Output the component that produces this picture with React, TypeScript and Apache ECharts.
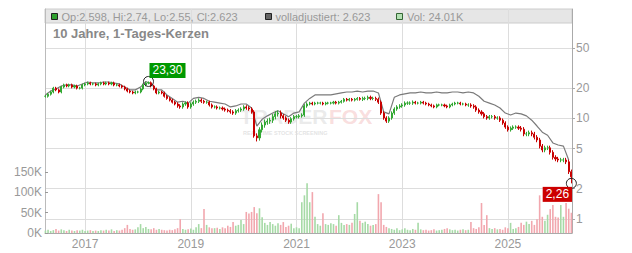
import React, { useEffect, useRef } from 'react';
import * as echarts from 'echarts';

const START_YEAR = 2016.25;
const CANDLE_STEP = 0.05;
const ADJ_STEP = 0.1;
const RANGE_STEP = 0.5;
const X_MIN = 2016.242;
const X_MAX = 2026.212;

const yearTicks = [2017, 2019, 2021, 2023, 2025];
const priceTicks = [1, 2, 5, 10, 20, 50];
const volumeTicks = [0, 50000, 100000, 150000];

// period closes (approx. every 0.05 year)
const closes = [
  16.6, 17.4, 18.3, 20.0, 19.2, 18.3, 20.5, 21.5, 21.0, 21.5,
  20.5, 21.0, 20.0, 20.0, 21.5, 22.0, 22.5, 22.0, 22.0, 21.5,
  22.0, 22.5, 22.0, 22.5, 22.0, 22.5, 21.5, 21.5, 21.0, 20.5,
  19.6, 18.7, 18.3, 17.9, 18.3, 18.3, 19.6, 21.5, 22.5, 22.6,
  21.0, 19.6, 17.9, 18.3, 17.9, 16.6, 15.8, 15.2, 14.5, 13.9,
  13.3, 13.0, 13.9, 14.2, 13.0, 13.9, 14.5, 14.8, 15.2, 14.8,
  14.5, 14.5, 13.6, 13.0, 13.0, 12.7, 12.7, 12.4, 12.1, 11.9,
  11.6, 11.3, 11.9, 12.1, 12.4, 13.0, 12.7, 12.4, 11.6, 6.7,
  6.4, 7.7, 8.6, 9.2, 9.4, 9.6, 10.4, 11.1, 11.3, 10.6,
  10.1, 9.6, 9.2, 9.9, 10.4, 10.4, 10.6, 10.8, 13.3, 13.9,
  14.2, 13.9, 14.2, 14.2, 14.2, 13.9, 14.2, 14.2, 14.2, 14.5,
  14.2, 14.5, 14.8, 15.5, 15.2, 15.5, 15.2, 15.5, 15.8, 15.5,
  15.8, 15.8, 16.2, 15.8, 15.8, 15.5, 14.5, 11.3, 10.1, 9.4,
  10.1, 11.3, 12.4, 13.0, 13.3, 13.6, 14.2, 14.2, 14.2, 14.5,
  14.2, 14.2, 14.5, 14.2, 13.9, 13.6, 13.3, 13.0, 13.6, 13.6,
  13.6, 13.3, 13.0, 13.6, 13.9, 14.2, 14.2, 13.9, 13.9, 13.6,
  13.6, 13.3, 13.0, 12.1, 11.6, 11.1, 10.4, 10.1, 10.4, 10.4,
  10.1, 10.1, 9.6, 9.0, 8.2, 7.7, 8.0, 8.2, 8.2, 8.0,
  7.8, 7.0, 7.0, 7.2, 7.0, 6.5, 6.1, 5.3, 4.85, 5.1,
  5.1, 4.6, 4.1, 3.95, 3.86, 3.86, 3.86, 3.7, 2.95, 2.623,
];

// typical intra-period wick range (%) per half year
const wickRangePct = [3, 3, 3, 3, 3, 4, 3.5, 4, 6, 4, 3, 3, 4, 4, 3, 3, 4, 4, 5, 5];

// wick extremes: [period index, value]
const highExtremes: [number, number][] = [[39, 23.3]];
const lowExtremes: [number, number][] = [[80, 5.9], [199, 2.26]];

// volume per period, in thousands
const volumesK = [
  6, 8, 5, 7, 10, 6, 9, 7, 5, 8,
  6, 5, 7, 6, 8, 5, 6, 7, 5, 6,
  5, 7, 6, 8, 6, 9, 5, 7, 6, 8,
  12, 20, 10, 8, 9, 14, 22, 12, 15, 10,
  9, 12, 8, 10, 8, 7, 6, 8, 7, 9,
  12, 34, 10, 8, 9, 11, 8, 14, 22, 12,
  59, 20, 14, 12, 12, 13, 10, 14, 12, 18,
  15, 27, 18, 20, 32, 22, 52, 48, 52, 64,
  49, 61, 39, 25, 20, 27, 22, 18, 24, 20,
  27, 15, 18, 23, 12, 14, 12, 76, 93, 123,
  76, 101, 40, 22, 18, 49, 22, 20, 24, 22,
  18, 44, 25, 20, 22, 20, 25, 47, 76, 30,
  25, 28, 22, 18, 20, 22, 96, 76, 20, 15,
  12, 10, 8, 12, 7, 9, 12, 8, 7, 10,
  8, 25, 9, 7, 8, 6, 7, 9, 6, 7,
  8, 10, 12, 9, 7, 8, 6, 8, 9, 7,
  8, 27, 12, 10, 14, 74, 20, 44, 12, 10,
  12, 9, 10, 8, 14, 12, 25, 10, 12, 15,
  25, 20, 28, 22, 30, 20, 34, 93, 40, 30,
  45, 59, 69, 40, 38, 69, 40, 74, 60, 50,
];

// "volladjustiert" line (approx. every 0.1 year)
const adjusted = [
  17.1, 18.7, 19.6, 21.0, 21.5, 21.5, 21.0, 22.0, 23.0, 22.5,
  22.5, 23.0, 23.0, 22.5, 22.0, 20.5, 19.2, 19.2, 20.5, 23.3,
  22.0, 19.2, 19.2, 17.1, 15.8, 14.5, 14.8, 14.2, 15.8, 16.2,
  15.8, 14.8, 14.5, 14.2, 13.9, 13.0, 13.3, 13.9, 13.9, 12.7,
  8.4, 9.8, 10.6, 11.3, 11.9, 11.1, 10.4, 11.3, 11.6, 14.2,
  15.8, 17.1, 17.1, 17.1, 17.1, 17.5, 17.9, 18.3, 18.3, 18.7,
  18.3, 18.7, 18.7, 17.9, 11.6, 11.1, 16.2, 17.1, 17.5, 17.9,
  17.9, 18.3, 17.9, 17.9, 18.3, 17.9, 17.9, 18.3, 18.3, 17.9,
  18.3, 17.9, 16.6, 14.8, 14.2, 13.6, 12.7, 11.3, 10.8, 11.3,
  11.1, 10.6, 9.6, 8.4, 7.3, 6.8, 5.7, 5.44, 5.3, 3.86,
];

const legendTexts = ['Op:2.598, Hi:2.74, Lo:2.55, Cl:2.623', 'volladjustiert: 2.623', 'Vol: 24.01K'];
const titleText = '10 Jahre, 1-Tages-Kerzen';

const FONT = '"Liberation Sans", Arial, Helvetica, sans-serif';
const UP = '#33a833';
const DOWN = '#c80000';
const VOL_UP = '#a6daa6';
const VOL_DOWN = '#f2a7ae';

const lg = (v: number) => Math.log10(v);

function buildOption() {
  const candleData = closes.map((c, i) => {
    const o = i === 0 ? c : closes[i - 1];
    const year = START_YEAR + i * CANDLE_STEP;
    const r = wickRangePct[Math.min(wickRangePct.length - 1, Math.floor((i * CANDLE_STEP) / RANGE_STEP))] / 100;
    let l = Math.min(o, c) * (1 - r);
    let h = Math.max(o, c) * (1 + r);
    highExtremes.forEach(([k, v]) => { if (k === i) h = v; });
    lowExtremes.forEach(([k, v]) => { if (k === i) l = v; });
    return [year, lg(o), lg(c), lg(l), lg(h)];
  });
  const volumeData = volumesK.map((v, i) => {
    const o = i === 0 ? closes[0] : closes[i - 1];
    const up = closes[i] >= o;
    return {
      value: [START_YEAR + i * CANDLE_STEP, v * 1000],
      itemStyle: { color: up ? VOL_UP : VOL_DOWN },
    };
  });
  const adjData = adjusted.map((v, j) => [START_YEAR + j * ADJ_STEP, lg(v)]);
  const priceTickLogs = priceTicks.map(lg);
  const fmtPrice = (p: any) => Math.pow(10, p.value).toFixed(2).replace('.', ',');

  return {
    animation: false,
    backgroundColor: '#ffffff',
    textStyle: { fontFamily: FONT },
    grid: { left: 45, right: 60, top: 9, bottom: 20, containLabel: false },
    xAxis: {
      type: 'value',
      min: X_MIN,
      max: X_MAX,
      axisLine: { show: true, onZero: false, lineStyle: { color: '#aaaaaa' } },
      axisTick: { show: false, customValues: yearTicks },
      axisLabel: {
        customValues: yearTicks,
        formatter: (v: number) => String(Math.round(v)),
        color: '#999999',
        fontSize: 12,
        fontFamily: FONT,
        margin: 5,
      },
      splitLine: { show: true, lineStyle: { color: '#dddddd', width: 1 } },
    },
    yAxis: [
      {
        type: 'value',
        position: 'right',
        min: -0.1392,
        max: 2.0875,
        axisLine: { show: true, onZero: false, lineStyle: { color: '#aaaaaa' } },
        axisTick: { show: true, customValues: priceTickLogs, length: 3, lineStyle: { color: '#aaaaaa' } },
        axisLabel: {
          customValues: priceTickLogs,
          formatter: (v: number) => String(Math.round(Math.pow(10, v))),
          color: '#999999',
          fontSize: 12,
          fontFamily: FONT,
          margin: 4,
        },
        splitLine: { show: true, lineStyle: { color: '#dddddd', width: 1 } },
      },
      {
        type: 'value',
        position: 'left',
        min: 0,
        max: 553000,
        axisLine: { show: true, onZero: false, lineStyle: { color: '#bbbbbb' } },
        axisTick: { show: true, inside: true, customValues: volumeTicks, length: 3, lineStyle: { color: '#999999' } },
        axisLabel: {
          customValues: volumeTicks,
          formatter: (v: number) => `${Math.round(v / 1000)}K`,
          color: '#999999',
          fontSize: 12,
          fontFamily: FONT,
          margin: 3,
        },
        splitLine: { show: false },
      },
    ],
    graphic: [
      {
        type: 'rect',
        z: -5,
        shape: { x: 45, y: 9, width: 527, height: 14 },
        style: { fill: '#e6e6e6', stroke: '#cccccc', lineWidth: 1 },
      },
      {
        type: 'text',
        z: -4,
        x: 240,
        y: 116,
        style: { text: 'TRADER', fill: 'rgba(210,210,210,0.45)', font: `bold 21px ${FONT}`, textVerticalAlign: 'middle' },
      },
      {
        type: 'text',
        z: -4,
        x: 329,
        y: 116,
        style: { text: 'FOX', fill: 'rgba(240,170,170,0.4)', font: `bold 21px ${FONT}`, textVerticalAlign: 'middle' },
      },
      {
        type: 'text',
        z: -4,
        x: 243,
        y: 133,
        style: { text: 'REAL TIME STOCK SCREENING', fill: 'rgba(200,200,200,0.5)', font: `bold 5.5px ${FONT}`, textVerticalAlign: 'middle' },
      },
      { type: 'rect', z: 10, shape: { x: 51.5, y: 13.5, width: 6, height: 6 }, style: { fill: '#2ea02e', stroke: '#222', lineWidth: 1 } },
      { type: 'text', z: 10, x: 61.5, y: 17, style: { text: legendTexts[0], fill: '#999999', font: `11px ${FONT}`, textVerticalAlign: 'middle' } },
      { type: 'rect', z: 10, shape: { x: 265.5, y: 13.5, width: 6, height: 6 }, style: { fill: '#666666', stroke: '#222', lineWidth: 1 } },
      { type: 'text', z: 10, x: 275.5, y: 17, style: { text: legendTexts[1], fill: '#999999', font: `11px ${FONT}`, textVerticalAlign: 'middle' } },
      { type: 'rect', z: 10, shape: { x: 396.5, y: 13.5, width: 6, height: 6 }, style: { fill: '#b3e0b3', stroke: '#336633', lineWidth: 1 } },
      { type: 'text', z: 10, x: 407, y: 17, style: { text: legendTexts[2], fill: '#999999', font: `11px ${FONT}`, textVerticalAlign: 'middle' } },
      { type: 'text', z: 10, x: 53, y: 33, style: { text: titleText, fill: '#888888', font: `bold 13px ${FONT}`, textVerticalAlign: 'middle' } },
    ],
    series: [
      {
        name: 'Vol',
        type: 'bar',
        xAxisIndex: 0,
        yAxisIndex: 1,
        barWidth: 1.6,
        z: 1,
        data: volumeData,
      },
      {
        name: 'volladjustiert',
        type: 'line',
        xAxisIndex: 0,
        yAxisIndex: 0,
        showSymbol: false,
        symbol: 'none',
        z: 2,
        lineStyle: { color: '#7a7a7a', width: 1.2 },
        data: adjData,
      },
      {
        name: 'Kurs',
        type: 'candlestick',
        xAxisIndex: 0,
        yAxisIndex: 0,
        barWidth: 1.6,
        z: 3,
        itemStyle: { color: UP, color0: DOWN, borderColor: UP, borderColor0: DOWN, borderWidth: 1 },
        data: candleData,
        markPoint: {
          symbol: 'circle',
          symbolSize: 10,
          z: 5,
          itemStyle: { color: 'rgba(0,0,0,0)', borderColor: '#222222', borderWidth: 1 },
          label: {
            show: true,
            color: '#ffffff',
            fontSize: 12,
            fontFamily: FONT,
            padding: [2, 3, 1, 3],
            formatter: fmtPrice,
          },
          data: [
            { type: 'max', valueDim: 'highest', label: { position: 'inside', offset: [19, -11], backgroundColor: '#009900' } },
            { type: 'min', valueDim: 'lowest', label: { position: 'inside', offset: [-14, 11], backgroundColor: '#cc0000' } },
          ],
        },
      },
    ],
  };
}

export default function App() {
  const ref = useRef<HTMLDivElement>(null);
  useEffect(() => {
    if (!ref.current) return;
    const chart = echarts.init(ref.current, undefined, { renderer: 'svg' });
    chart.setOption(buildOption() as any);
    return () => chart.dispose();
  }, []);
  return (
    <div
      ref={ref}
      style={{ position: 'fixed', left: 0, top: 0, width: 632, height: 253, background: '#ffffff' }}
    />
  );
}
